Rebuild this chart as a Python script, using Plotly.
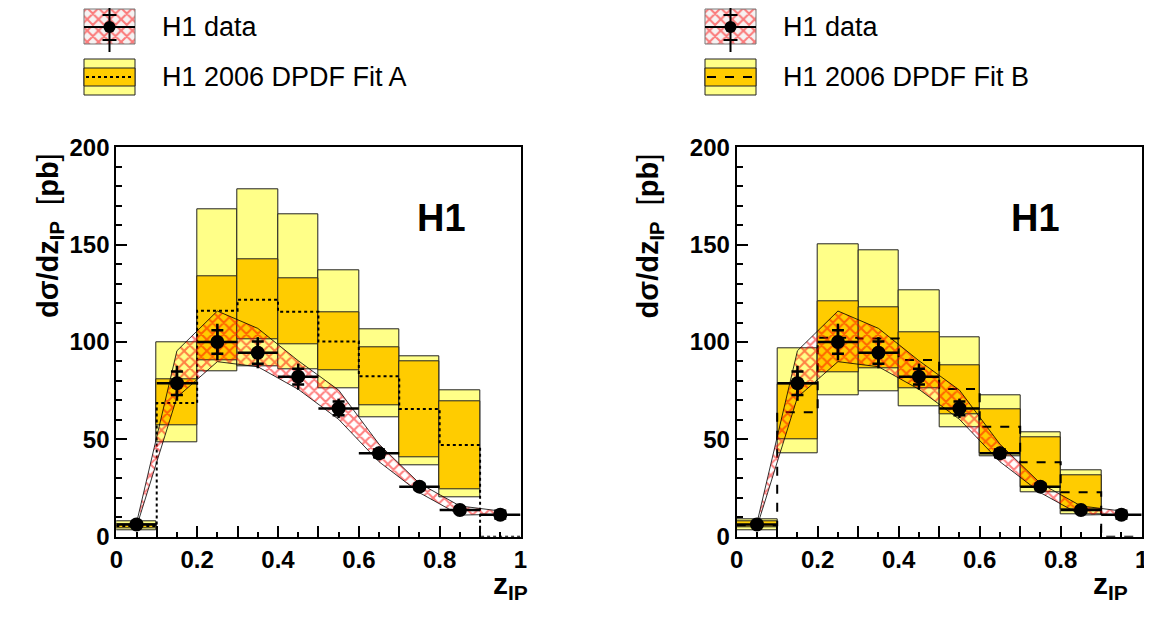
import numpy as np
import plotly.graph_objects as go

# bin edges / centres in z_IP
edges = [0.0, 0.1, 0.2, 0.3, 0.4, 0.5, 0.6, 0.7, 0.8, 0.9, 1.0]
centres = [0.05, 0.15, 0.25, 0.35, 0.45, 0.55, 0.65, 0.75, 0.85, 0.95]

# H1 data (pb), stat and total errors
data_y = [6.3, 78.8, 100.0, 94.5, 82.2, 65.9, 42.8, 25.7, 13.7, 11.3]
data_stat = [1.0, 6.0, 6.0, 5.7, 4.0, 3.5, 2.0, 1.5, 1.2, 2.0]
data_tot = [1.5, 9.0, 9.4, 8.0, 6.7, 5.0, 3.5, 2.5, 2.0, 3.0]

# hatched band around the data (upper / lower edge at the bin centres)
band_hi = [7.0, 95.5, 115.9, 107.0, 90.4, 75.3, 47.5, 27.4, 15.8, 13.2]
band_lo = [5.0, 71.6, 89.9, 87.3, 75.7, 60.3, 38.5, 22.6, 11.1, 11.5]

# H1 2006 DPDF Fit A (bins 0..0.9)
fitA_c = [5.5, 68.7, 116.1, 121.7, 115.6, 100.3, 82.4, 65.6, 47.1]
fitA_in_hi = [6.5, 80.8, 133.9, 142.5, 132.9, 115.4, 97.4, 90.2, 69.7]
fitA_in_lo = [4.5, 57.0, 90.8, 101.4, 99.0, 85.6, 67.3, 40.8, 24.3]
fitA_out_hi = [8.0, 99.7, 168.3, 178.4, 165.6, 136.8, 106.3, 92.5, 75.2]
fitA_out_lo = [3.5, 48.3, 84.8, 87.3, 86.0, 76.2, 61.5, 36.8, 20.0]

# H1 2006 DPDF Fit B
fitB_c = [5.9, 63.9, 102.2, 101.8, 90.8, 75.9, 56.5, 38.2, 22.8]
fitB_in_hi = [7.7, 78.4, 121.1, 117.6, 104.8, 87.8, 65.4, 50.9, 31.7]
fitB_in_lo = [4.6, 50.2, 84.2, 86.6, 76.2, 63.0, 42.8, 25.3, 14.0]
fitB_out_hi = [8.9, 96.7, 150.3, 146.9, 126.7, 102.2, 72.4, 53.6, 33.9]
fitB_out_lo = [3.4, 42.8, 72.4, 74.5, 66.8, 56.2, 41.1, 22.8, 11.6]

YELLOW = "#ffff88"
ORANGE = "#ffcc00"
HATCH = dict(shape="x", fgcolor="#ff0000", size=8, solidity=0.45)
FONT = "Liberation Sans"

# page body has an 8px margin, so the figure is placed 8px in from the top-left corner
OFF = 8
W, H = 1152 - OFF, 619 - OFF


def px(x):
    return (x - OFF) / W


def py(y):
    return (H - (y - OFF)) / H


fig = go.Figure()


def add_panel(xa, ya, c, in_hi, in_lo, out_hi, out_lo, dash):
    xc = centres[:len(c)]
    out_hi, out_lo = np.array(out_hi), np.array(out_lo)
    in_hi, in_lo = np.array(in_hi), np.array(in_lo)
    fig.add_trace(go.Bar(x=xc, y=out_hi - out_lo, base=out_lo, width=0.1,
                         marker=dict(color=YELLOW, line=dict(color="#222", width=1)),
                         xaxis=xa, yaxis=ya, showlegend=False, hoverinfo="skip"))
    fig.add_trace(go.Bar(x=xc, y=in_hi - in_lo, base=in_lo, width=0.1,
                         marker=dict(color=ORANGE, line=dict(color="#222", width=1)),
                         xaxis=xa, yaxis=ya, showlegend=False, hoverinfo="skip"))
    # central fit as a step line, dropping to 0 after the last filled bin
    fig.add_trace(go.Scatter(x=edges, y=list(c) + [0, 0], mode="lines",
                             line=dict(color="black", width=2, dash=dash, shape="hv"),
                             xaxis=xa, yaxis=ya, showlegend=False, hoverinfo="skip"))
    # hatched band
    fig.add_trace(go.Scatter(x=centres + centres[::-1], y=band_hi + band_lo[::-1],
                             fill="toself", mode="lines",
                             line=dict(color="black", width=0.8),
                             fillcolor="rgba(0,0,0,0)",
                             fillpattern=dict(HATCH, bgcolor="rgba(0,0,0,0)"),
                             xaxis=xa, yaxis=ya, showlegend=False, hoverinfo="skip"))
    # data: total errors + full bin width
    fig.add_trace(go.Scatter(x=centres, y=data_y, mode="markers",
                             marker=dict(color="black", size=14),
                             error_y=dict(type="data", array=data_tot, color="black", thickness=2.5, width=0),
                             error_x=dict(type="constant", value=0.05, color="black", thickness=2.5, width=0),
                             xaxis=xa, yaxis=ya, showlegend=False))
    # stat ticks
    fig.add_trace(go.Scatter(x=centres, y=data_y, mode="markers",
                             marker=dict(color="black", size=1),
                             error_y=dict(type="data", array=data_stat, color="black", thickness=2.5, width=6),
                             xaxis=xa, yaxis=ya, showlegend=False, hoverinfo="skip"))


add_panel("x", "y", fitA_c, fitA_in_hi, fitA_in_lo, fitA_out_hi, fitA_out_lo, "dot")
add_panel("x2", "y2", fitB_c, fitB_in_hi, fitB_in_lo, fitB_out_hi, fitB_out_lo, "dash")


# ---- legend glyphs, drawn in an overlay axis measured in page pixels ----
def add_legend(dx, dash):
    bx0, bx1 = 84 + dx, 135 + dx
    cx = 109.5 + dx
    fig.add_trace(go.Scatter(x=[bx0, bx1, bx1, bx0, bx0], y=[9, 9, 44, 44, 9], mode="lines",
                             fill="toself", fillcolor="white",
                             fillpattern=dict(HATCH, bgcolor="#f6f2f2"),
                             line=dict(color="#777", width=1),
                             xaxis="x3", yaxis="y3", showlegend=False, hoverinfo="skip"))
    fig.add_trace(go.Scatter(x=[bx0, bx1, None, cx, cx, None, cx - 7, cx + 7, None, cx - 7, cx + 7],
                             y=[27, 27, None, 0, 52, None, 15, 15, None, 40, 40], mode="lines",
                             line=dict(color="black", width=2),
                             xaxis="x3", yaxis="y3", showlegend=False, hoverinfo="skip"))
    fig.add_trace(go.Scatter(x=[cx], y=[27], mode="markers", marker=dict(color="black", size=12),
                             xaxis="x3", yaxis="y3", showlegend=False, hoverinfo="skip"))
    fig.add_trace(go.Scatter(x=[bx0, bx1, bx1, bx0, bx0], y=[59, 59, 95, 95, 59], mode="lines",
                             fill="toself", fillcolor=YELLOW, line=dict(color="#222", width=1),
                             xaxis="x3", yaxis="y3", showlegend=False, hoverinfo="skip"))
    fig.add_trace(go.Scatter(x=[bx0, bx1, bx1, bx0, bx0], y=[68, 68, 86, 86, 68], mode="lines",
                             fill="toself", fillcolor=ORANGE, line=dict(color="#222", width=1),
                             xaxis="x3", yaxis="y3", showlegend=False, hoverinfo="skip"))
    fig.add_trace(go.Scatter(x=[bx0 + 2, bx1 - 2], y=[77, 77], mode="lines",
                             line=dict(color="black", width=2, dash=dash),
                             xaxis="x3", yaxis="y3", showlegend=False, hoverinfo="skip"))


add_legend(0, "dot")
add_legend(621, "dash")

legend_txt = [("H1 data", 160, 27), ("H1 2006 DPDF Fit A", 160, 77),
              ("H1 data", 781, 27), ("H1 2006 DPDF Fit B", 781, 77)]
annotations = []
for t, lx, ly in legend_txt:
    annotations.append(dict(text=t, x=lx, y=ly, xref="x3", yref="y3", xanchor="left", yanchor="middle",
                            showarrow=False, font=dict(family=FONT, size=27, color="black")))

for off in (0, 620.4):
    annotations.append(dict(text="<b>H1</b>", x=px(441.5 + off), y=py(218), xref="paper", yref="paper",
                            showarrow=False, font=dict(family=FONT, size=38, color="black")))
    annotations.append(dict(text="<b>dσ/dz<sub>IP</sub></b>  [<b>pb</b>]", x=px(30 + off), y=py(236),
                            xref="paper", yref="paper", textangle=-90, showarrow=False,
                            font=dict(family=FONT, size=29, color="black")))
    annotations.append(dict(text="<b>z<sub>IP</sub></b>", x=px(510 + off), y=py(606),
                            xref="paper", yref="paper", showarrow=False,
                            font=dict(family=FONT, size=30, color="black")))

ydom = [py(536.7), py(147.3)]
xt_vals = [0, 0.1, 0.2, 0.3, 0.4, 0.5, 0.6, 0.7, 0.8, 0.9, 1.0]
xt_text = ["0", "", "0.2", "", "0.4", "", "0.6", "", "0.8", "", "1"]
xax = dict(range=[0, 1], showline=True, linewidth=2, linecolor="black", mirror=True,
           ticks="inside", ticklen=11, tickwidth=1.5, tickcolor="black",
           tickvals=xt_vals, ticktext=xt_text,
           minor=dict(ticks="inside", ticklen=5, dtick=0.05, tickcolor="black", tickwidth=1.5),
           tickfont=dict(family=FONT, size=24, color="black", weight="bold"),
           showgrid=False, zeroline=False, automargin=False, fixedrange=True)
yax = dict(range=[0, 200], showline=True, linewidth=2, linecolor="black", mirror=True,
           ticks="inside", ticklen=11, tickwidth=1.5, tickcolor="black", dtick=50,
           minor=dict(ticks="inside", ticklen=6, dtick=10, tickcolor="black", tickwidth=1.5),
           tickfont=dict(family=FONT, size=24, color="black", weight="bold"),
           showgrid=False, zeroline=False, automargin=False, fixedrange=True, domain=ydom)

fig.update_layout(
    width=W, height=H,
    margin=dict(l=0, r=0, t=0, b=0),
    paper_bgcolor="white", plot_bgcolor="white",
    barmode="overlay", bargap=0,
    showlegend=False,
    xaxis=dict(xax, domain=[px(116.3), px(520.5)], anchor="y"),
    yaxis=dict(yax, anchor="x"),
    xaxis2=dict(xax, domain=[px(736.7), px(1141.7)], anchor="y2"),
    yaxis2=dict(yax, anchor="x2"),
    xaxis3=dict(domain=[0, 1], range=[OFF, OFF + W], visible=False, fixedrange=True, anchor="y3"),
    yaxis3=dict(domain=[py(100), 1], range=[100, OFF], visible=False, fixedrange=True, anchor="x3"),
    annotations=annotations,
)

fig.write_html("out.html")
